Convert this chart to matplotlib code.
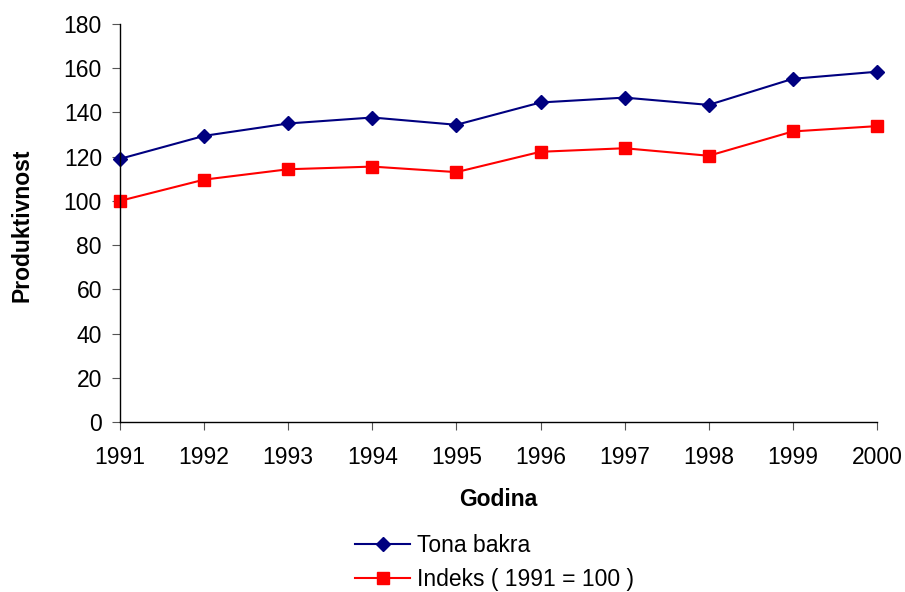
import matplotlib
matplotlib.use("Agg")
import matplotlib.pyplot as plt

plt.rcParams["font.family"] = ["Liberation Sans", "DejaVu Sans"]

years = [1991, 1992, 1993, 1994, 1995, 1996, 1997, 1998, 1999, 2000]
tona_bakra = [119.0, 129.4, 135.0, 137.7, 134.4, 144.5, 146.7, 143.4, 155.2, 158.4]
indeks = [100.0, 109.6, 114.3, 115.5, 113.0, 122.2, 123.8, 120.4, 131.4, 133.8]

fig = plt.figure(figsize=(9.05, 5.92), dpi=100)
ax = fig.add_axes([0.1326, 0.2872, 0.8364, 0.6723])

ax.plot(years, tona_bakra, color="#000080", marker="D", markersize=7,
        linewidth=1.5, label="Tona bakra")
ax.plot(years, indeks, color="#FF0000", marker="s", markersize=8,
        linewidth=1.5, label="Indeks ( 1991 = 100 )")

ax.set_xlim(1991, 2000)
ax.set_ylim(0, 180)
ax.set_xticks(years)
ax.set_yticks(range(0, 181, 20))
ax.tick_params(labelsize=16.5, length=6, color="#555555")
ax.tick_params(axis="x", pad=11)
ax.tick_params(axis="y", pad=7)
ax.spines["top"].set_visible(False)
ax.spines["right"].set_visible(False)
for s in ("left", "bottom"):
    ax.spines[s].set_linewidth(1.0)
for line in ax.get_lines():
    line.set_clip_on(False)

ax.set_xlabel("Godina", fontsize=16.5, fontweight="bold", labelpad=14)
fig.text(0.024, 0.62, "Produktivnost", rotation=90, fontsize=16.5,
         fontweight="bold", ha="center", va="center")

ax.legend(loc="upper left", bbox_to_anchor=(0.38, 0.118),
          bbox_transform=fig.transFigure, frameon=False, fontsize=16.5,
          handlelength=2.4, handletextpad=0.3, labelspacing=0.5,
          borderpad=0)

fig.savefig("out.png", dpi=100)
